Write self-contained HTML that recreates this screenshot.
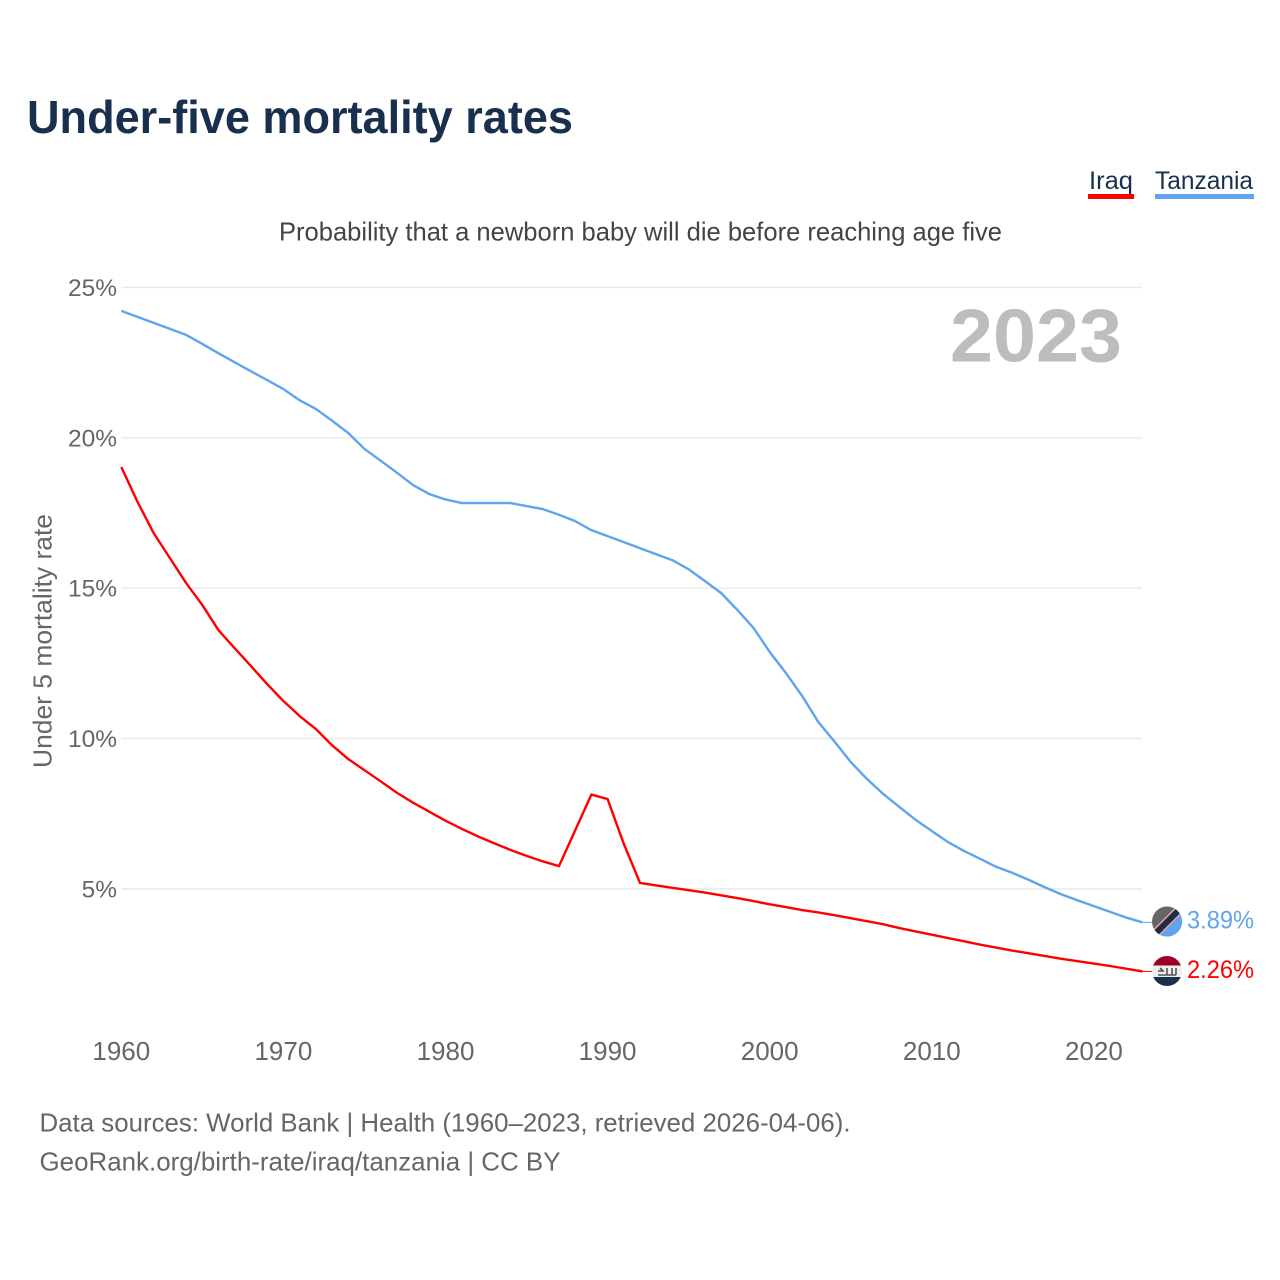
<!DOCTYPE html>
<html>
<head>
<meta charset="utf-8">
<title>Under-five mortality rates</title>
<style>
html,body{margin:0;padding:0;background:#fff;}
svg{display:block;}
text{font-family:"Liberation Sans",sans-serif;}
</style>
</head>
<body>
<svg id="chart" xmlns="http://www.w3.org/2000/svg" width="1280" height="1280" viewBox="0 0 1280 1280">
  <rect width="1280" height="1280" fill="#fff"/>
  <text x="27" y="133" font-size="46" font-weight="700" fill="#182f4d" textLength="546" lengthAdjust="spacingAndGlyphs">Under-five mortality rates</text>
  <g>
    <text x="1089" y="189" font-size="25" fill="#182f4d" textLength="44" lengthAdjust="spacingAndGlyphs">Iraq</text>
    <rect x="1088" y="194" width="46" height="5" fill="#ff0000"/>
  </g>
  <g>
    <text x="1155" y="189" font-size="25" fill="#182f4d" textLength="98" lengthAdjust="spacingAndGlyphs">Tanzania</text>
    <rect x="1155" y="194" width="99" height="5" fill="#5fa4ee"/>
  </g>
  <text x="279" y="240.5" font-size="26" fill="#444" textLength="723" lengthAdjust="spacingAndGlyphs">Probability that a newborn baby will die before reaching age five</text>
  <text transform="translate(51.5,768) rotate(-90)" x="0" y="0" font-size="26" fill="#666" textLength="254" lengthAdjust="spacingAndGlyphs">Under 5 mortality rate</text>
  <g id="grid"></g>
  <g id="yticks"></g>
  <g id="xticks"></g>
  <text x="950" y="361.5" font-size="75" font-weight="700" fill="#bcbdbf" textLength="172" lengthAdjust="spacingAndGlyphs">2023</text>
  <g id="series"></g>

  <defs>
    <clipPath id="clip-tz"><circle cx="1167" cy="921.5" r="15"/></clipPath>
    <clipPath id="clip-iq"><circle cx="1167" cy="971" r="15"/></clipPath>
  </defs>
  <g clip-path="url(#clip-tz)">
    <rect x="1150" y="905" width="34" height="34" fill="#666"/>
    <polygon points="1184,905 1184,939 1150,939" fill="#5fa4ee"/>
    <line x1="1150" y1="939" x2="1184" y2="905" stroke="#ff9a90" stroke-width="9"/>
    <line x1="1150" y1="939" x2="1184" y2="905" stroke="#182f4d" stroke-width="6"/>
  </g>
  <g clip-path="url(#clip-iq)">
    <rect x="1150" y="955" width="34" height="11" fill="#9b0024"/>
    <rect x="1150" y="965.5" width="34" height="11.5" fill="#eeeeee"/>
    <rect x="1150" y="977" width="34" height="11" fill="#182f4d"/>
    <path d="M1158 975h18M1160 968l3 3h-5M1167 968v7M1172 968v7M1176 968v7" stroke="#555" stroke-width="1.6" fill="none"/>
  </g>
  <text id="value-tz" x="1187" y="928.5" font-size="25" fill="#5fa4ee" textLength="67" lengthAdjust="spacingAndGlyphs"></text>
  <text id="value-iq" x="1187" y="978" font-size="25" fill="#ff0000" textLength="67" lengthAdjust="spacingAndGlyphs"></text>

  <text x="39.5" y="1131.5" font-size="26" fill="#666" textLength="811" lengthAdjust="spacingAndGlyphs">Data sources: World Bank | Health (1960–2023, retrieved 2026-04-06).</text>
  <text x="39.5" y="1170.5" font-size="26" fill="#666" textLength="521" lengthAdjust="spacingAndGlyphs">GeoRank.org/birth-rate/iraq/tanzania | CC BY</text>
</svg>
<script>
const years = [];
for (let yr = 1960; yr <= 2023; yr++) years.push(yr);
const tanzaniaValues = [24.22,24.02,23.82,23.62,23.42,23.12,22.81,22.51,22.21,21.92,21.62,21.25,20.96,20.57,20.16,19.63,19.24,18.84,18.43,18.13,17.95,17.83,17.83,17.83,17.83,17.73,17.63,17.44,17.23,16.93,16.73,16.53,16.33,16.13,15.93,15.63,15.24,14.84,14.28,13.68,12.88,12.18,11.42,10.55,9.9,9.22,8.66,8.16,7.73,7.3,6.93,6.56,6.26,6.0,5.73,5.53,5.3,5.05,4.82,4.62,4.43,4.24,4.05,3.89];
const iraqValues = [19.03,17.87,16.83,16.0,15.17,14.44,13.6,13.0,12.41,11.81,11.25,10.75,10.32,9.78,9.32,8.95,8.58,8.2,7.87,7.57,7.27,7.0,6.75,6.52,6.3,6.1,5.92,5.76,6.95,8.14,7.99,6.5,5.2,5.12,5.04,4.96,4.88,4.79,4.7,4.6,4.49,4.4,4.3,4.22,4.13,4.03,3.93,3.83,3.7,3.59,3.48,3.37,3.26,3.15,3.05,2.95,2.86,2.77,2.68,2.6,2.52,2.44,2.35,2.26];
const yTickValues = [5,10,15,20,25];
const xTickValues = [1960,1970,1980,1990,2000,2010,2020];

const NS = 'http://www.w3.org/2000/svg';
const xOf = function (yr) { return 121.3 + (yr - 1960) * 16.21; };
const yOf = function (v) { return 889 - (v - 5) * 30.08; };
function pathFor(vals) {
  return vals.map(function (v, i) {
    return (i ? 'L' : 'M') + xOf(years[i]).toFixed(2) + ' ' + yOf(v).toFixed(2);
  }).join('');
}

const grid = document.getElementById('grid');
const yticks = document.getElementById('yticks');
const xticks = document.getElementById('xticks');
const seriesG = document.getElementById('series');

yTickValues.forEach(function (t) {
  const l = document.createElementNS(NS, 'line');
  
  
  l.setAttribute('x1', 121.5);
  l.setAttribute('x2', 1142);
  l.setAttribute('y1', yOf(t));
  l.setAttribute('y2', yOf(t));
  l.setAttribute('stroke', '#e9e9e9');
  l.setAttribute('stroke-width', '1.4');
  grid.appendChild(l);

  const s = document.createElementNS(NS, 'text');
  
  
  s.setAttribute('x', 117);
  s.setAttribute('y', yOf(t) + 8.5);
  s.setAttribute('text-anchor', 'end');
  s.setAttribute('font-size', '24.5');
  s.setAttribute('fill', '#666');
  s.textContent = t + '%';
  yticks.appendChild(s);
});

xTickValues.forEach(function (t) {
  const s = document.createElementNS(NS, 'text');
  
  
  s.setAttribute('x', xOf(t));
  s.setAttribute('y', 1060);
  s.setAttribute('text-anchor', 'middle');
  s.setAttribute('font-size', '26');
  s.setAttribute('fill', '#666');
  s.textContent = t;
  xticks.appendChild(s);
});

function drawLine(vals, color) {
  const p = document.createElementNS(NS, 'path');
  p.setAttribute('d', pathFor(vals));
  p.setAttribute('fill', 'none');
  p.setAttribute('stroke', color);
  p.setAttribute('stroke-width', '2.4');
  p.setAttribute('stroke-linejoin', 'round');
  seriesG.appendChild(p);
  return p;
}
function drawLeader(vals, color) {
  const last = vals[vals.length - 1];
  const l = document.createElementNS(NS, 'line');
  l.setAttribute('x1', xOf(years[years.length - 1]));
  l.setAttribute('x2', 1153);
  l.setAttribute('y1', yOf(last));
  l.setAttribute('y2', yOf(last));
  l.setAttribute('stroke', color);
  l.setAttribute('stroke-width', '1');
  seriesG.appendChild(l);
  return l;
}

const tzLine = drawLine(tanzaniaValues, '#5fa4ee');


const iqLine = drawLine(iraqValues, '#ff0000');


const tzLeader = drawLeader(tanzaniaValues, '#5fa4ee');


const iqLeader = drawLeader(iraqValues, '#ff0000');



document.getElementById('value-tz').textContent = tanzaniaValues[tanzaniaValues.length - 1].toFixed(2) + '%';
document.getElementById('value-iq').textContent = iraqValues[iraqValues.length - 1].toFixed(2) + '%';
</script>
</body>
</html>
